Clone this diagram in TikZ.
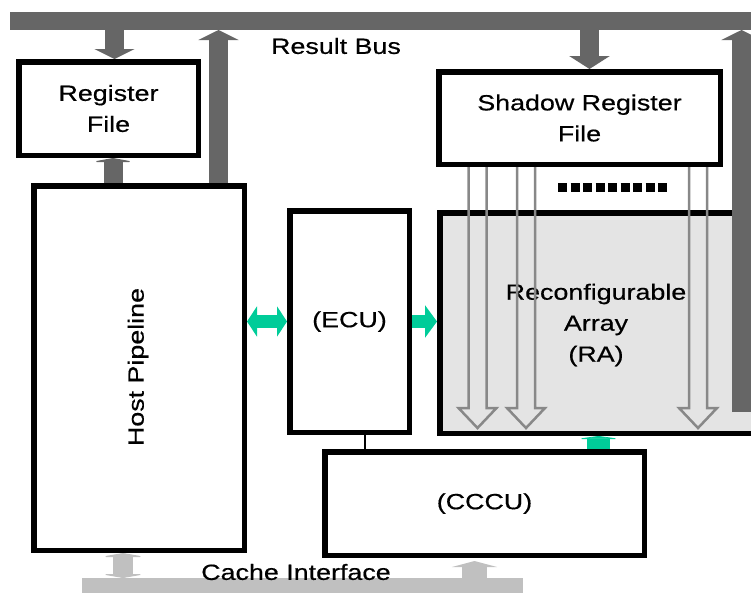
\documentclass[tikz,border=0pt]{standalone}
\usepackage{fontspec}
\setmainfont{Liberation Sans}[FakeStretch=1.22,FakeBold=0.5]
\usetikzlibrary{arrows.meta,calc}

\definecolor{busgray}{RGB}{102,102,102}
\definecolor{cachegray}{RGB}{192,192,192}
\definecolor{hollowgray}{RGB}{136,136,136}
\definecolor{ragray}{RGB}{228,228,228}
\definecolor{linkgreen}{RGB}{0,204,153}

\tikzset{
  txt/.style={inner sep=0pt, align=center, font=\fontsize{22}{31}\selectfont},
  block/.style={txt, draw=black, line width=5.5pt, fill=white},
  bus/.style={inner sep=0pt, outer sep=0pt},
  fat/.style={draw=busgray, line width=19pt, -{Triangle[width=40pt,length=10pt]}},
  cachearrow/.style={draw=cachegray, line width=20pt},
  greenlink/.style={draw=linkgreen, line width=13pt},
  hollow/.style={draw=hollowgray, line width=2.5pt, line join=miter, to path={
    ([xshift=-9pt]\tikztostart) -- ([xshift=-9pt,yshift=28pt]\tikztotarget)
    -- ([xshift=-19pt,yshift=28pt]\tikztotarget) -- ([yshift=8pt]\tikztotarget)
    -- ([xshift=19pt,yshift=28pt]\tikztotarget) -- ([xshift=9pt,yshift=28pt]\tikztotarget)
    -- ([xshift=9pt]\tikztostart)}}
}

\begin{document}
\begin{tikzpicture}[x=1pt,y=-1pt]
\useasboundingbox (0,0) rectangle (751,592);
\clip (0,0) rectangle (751,592);

% buses
\node[bus, fill=busgray, minimum width=750pt, minimum height=18pt] (rbus) at (385,21) {};
\node[bus, fill=cachegray, minimum width=441pt, minimum height=22pt] (cbus) at (302.5,589) {};
\node[txt] (rbuslabel) at (336,46) {Result Bus};
\node[txt] (cbuslabel) at (296,572) {Cache Interface};

% blocks
\node[block, minimum width=179.5pt, minimum height=93.5pt] (regfile) at (108.5,108.5) {Register\\File};
\node[block, minimum width=210.5pt, minimum height=364.5pt] (host) at (139,368) {};
\node[txt, rotate=90] (hostlabel) at (138,367) {Host Pipeline};
\node[block, minimum width=119.5pt, minimum height=221.5pt] (ecu) at (349.5,321.5) {(ECU)};
\node[block, fill=ragray, minimum width=314.5pt, minimum height=220.5pt] (ra) at (597,323) {};
\node[txt] (ralabel) at (596,325) {Reconfigurable\\Array\\(RA)};
\node[block, minimum width=281.5pt, minimum height=92.5pt] (srf) at (579.5,118) {Shadow Register\\File};
\node[block, minimum width=319.5pt, minimum height=103.5pt] (cccu) at (484.5,503.5) {(CCCU)};

% register paths
\foreach \hx in {477.5,526,698} {
  \coordinate (hx) at (\hx,0);
  \draw[hollow] (srf.south -| hx) to (ra.south -| hx);
}
\draw[line width=9pt, dash pattern=on 9pt off 3.5pt] (558,187) -- (668,187);

% result bus arrows
\draw[fat] ([xshift=6pt]regfile.north |- rbus.south) -- ([xshift=6pt]regfile.north);
\draw[fat] ([xshift=79.5pt]host.north) -- ([xshift=79.5pt]host.north |- rbus.south);
\draw[fat, -{Triangle[width=44pt,length=4pt]}] ([xshift=4.5pt]regfile.south |- host.north) -- ([xshift=4.5pt]regfile.south);
\draw[fat, -{Triangle[width=40pt,length=13pt]}] ([xshift=10pt]srf.north |- rbus.south) -- ([xshift=10pt]srf.north);
\coordinate (raout) at (741.5,412);
\draw[fat] (raout) -- (raout |- rbus.south);

% control links
\draw[greenlink, {Triangle[width=30pt,length=10pt]}-{Triangle[width=30pt,length=10pt]}] (host.east |- ecu.west) -- (ecu.west);
\draw[greenlink, -{Triangle[width=32pt,length=12pt]}] (ecu.east) -- (ra.west |- ecu.east);
\draw[greenlink, line width=23pt, -{Triangle[width=45pt,length=3pt]}] ([xshift=1.5pt]ra.south |- cccu.north) -- ([xshift=1.5pt]ra.south);
\draw[line width=1.5pt] ([xshift=15.5pt]ecu.south) -- ([xshift=15.5pt]ecu.south |- cccu.north);

% cache interface arrows
\draw[cachearrow, {Triangle[width=46pt,length=4pt]}-{Triangle[width=46pt,length=4pt]}] ([xshift=-16pt]host.south) -- ([xshift=-16pt]host.south |- cbus.north);
\draw[cachearrow, line width=25pt, -{Triangle[width=45pt,length=6pt]}] ([xshift=-10pt]cccu.south |- cbus.north) -- ([xshift=-10pt,yshift=-3pt]cccu.south);
\end{tikzpicture}
\end{document}
